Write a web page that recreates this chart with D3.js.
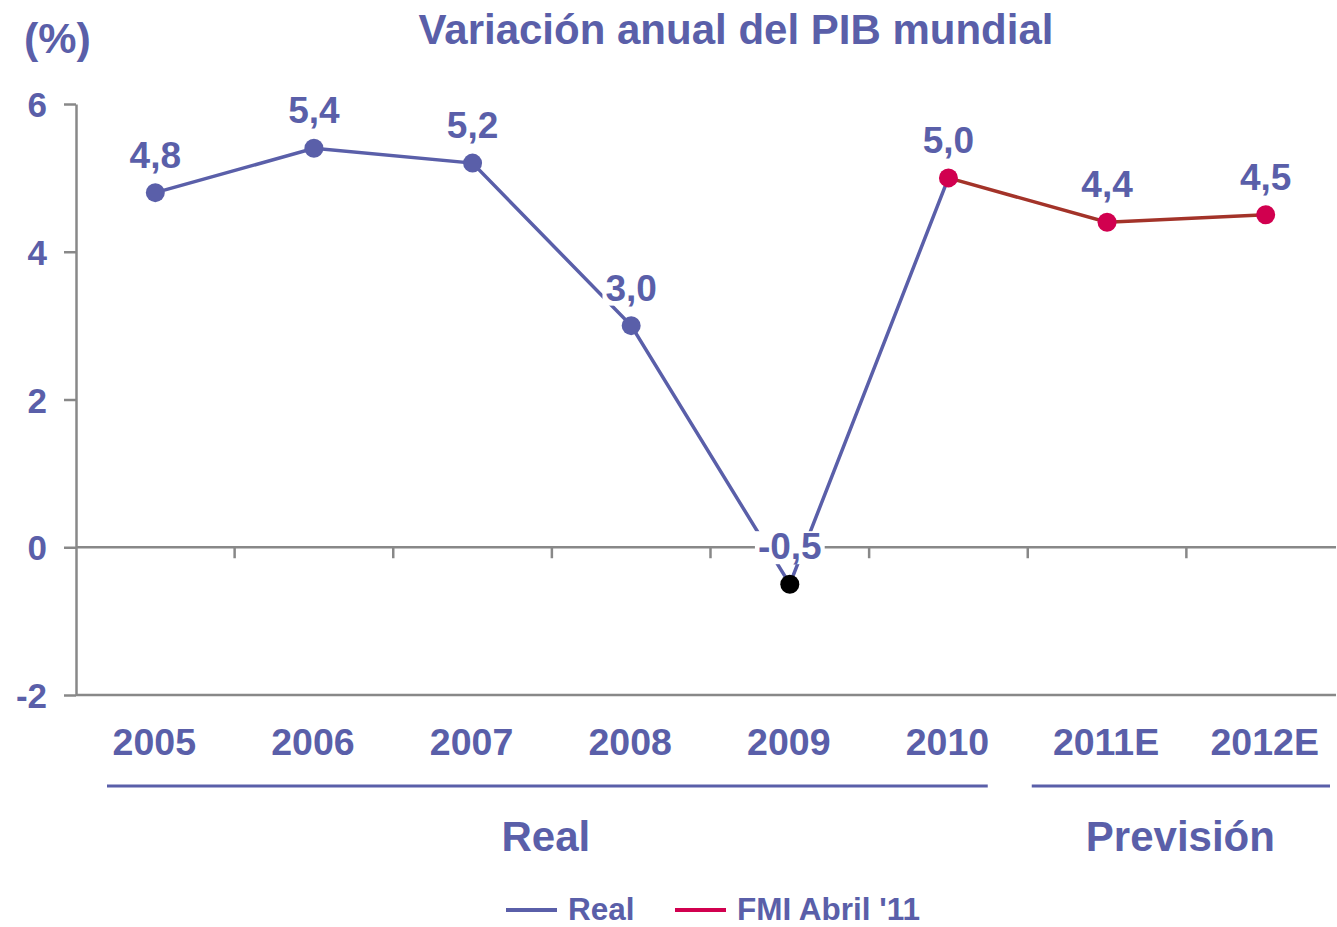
<!DOCTYPE html>
<html><head><meta charset="utf-8">
<script src="https://cdn.jsdelivr.net/npm/d3@7"></script>
<style>body{margin:0;background:#fff}svg{display:block}text{font-family:"Liberation Sans",Arial,sans-serif;font-weight:bold}</style>
</head><body><svg id="c" width="1337" height="927"></svg>
<script>
const categories = ["2005","2006","2007","2008","2009","2010","2011E","2012E"];
const realYears = ["2005","2006","2007","2008","2009","2010"];
const realValues = [4.8, 5.4, 5.2, 3.0, -0.5, 5.0];
const fmiYears = ["2010","2011E","2012E"];
const fmiValues = [5.0, 4.4, 4.5];
const yTicks = [-2, 0, 2, 4, 6];
const groups = [{name:"Real", from:"2005", to:"2010"}, {name:"Previsión", from:"2011E", to:"2012E"}];

const blue = "#5A5FA9", crimson = "#D1004F", brown = "#A33329", grey = "#888888";
const svg = d3.select("#c");
const L = 76, R = 1345, T = 104, B = 695, axisRight = 1336;
const x = d3.scaleBand().domain(categories).range([L, R]);
const y = d3.scaleLinear().domain([-2, 6]).range([B, T]);
const cx = d => x(d) + x.bandwidth()/2;

// title
svg.append("text").attr("x", 736).attr("y", 44).attr("text-anchor","middle")
  .attr("font-size", 42).attr("fill", blue).text("Variación anual del PIB mundial");
svg.append("text").attr("x", 24).attr("y", 53).attr("font-size", 43).attr("fill", blue).text("(%)");

// y axis
const ya = svg.append("g").attr("transform", `translate(${L},0)`)
  .call(d3.axisLeft(y).tickValues(yTicks).tickSize(12).tickSizeOuter(0).tickPadding(17).tickFormat(d => String(d)));
ya.select(".domain").attr("stroke", grey).attr("stroke-width", 2.5);
ya.selectAll(".tick line").attr("stroke", grey).attr("stroke-width", 2.5);
ya.selectAll(".tick text").attr("font-size", 35).attr("fill", blue).attr("font-family","Liberation Sans, Arial, sans-serif").attr("font-weight","bold").attr("dy","0.36em");

// bottom border & zero line
svg.append("line").attr("x1", L).attr("x2", axisRight).attr("y1", y(-2)).attr("y2", y(-2)).attr("stroke", grey).attr("stroke-width", 2.5);
svg.append("line").attr("x1", L).attr("x2", axisRight).attr("y1", y(0)).attr("y2", y(0)).attr("stroke", grey).attr("stroke-width", 2.5);
svg.selectAll(".bt").data(categories.slice(1)).join("line")
  .attr("x1", d => x(d)).attr("x2", d => x(d)).attr("y1", y(0)).attr("y2", y(0) + 11)
  .attr("stroke", grey).attr("stroke-width", 2.5);

// category labels
svg.selectAll(".cl").data(categories).join("text")
  .attr("x", d => cx(d) - 1).attr("y", 755).attr("text-anchor","middle")
  .attr("font-size", 37.5).attr("fill", blue).text(d => d);

// group brackets
groups.forEach((g, i) => {
  const x1 = x(g.from) + (i === 0 ? 31 : 4), x2 = x(g.to) + x.bandwidth() - (i === 0 ? 40 : 15);
  svg.append("line").attr("x1", x1).attr("x2", x2).attr("y1", 786).attr("y2", 786).attr("stroke", blue).attr("stroke-width", 3);
  svg.append("text").attr("x", (x(g.from) + x(g.to) + x.bandwidth())/2 - (i===0?6:6)).attr("y", 851).attr("text-anchor","middle")
    .attr("font-size", 42).attr("fill", blue).text(g.name);
});

// lines
const line = d3.line().x(d => cx(d[0])).y(d => y(d[1]));
svg.append("path").datum(d3.zip(realYears, realValues)).attr("d", line)
  .attr("fill","none").attr("stroke", blue).attr("stroke-width", 3.5);
svg.append("path").datum(d3.zip(fmiYears, fmiValues)).attr("d", line)
  .attr("fill","none").attr("stroke", brown).attr("stroke-width", 3.5);

// labels with white backgrounds
const allPts = categories.map(c => {
  const ri = realYears.indexOf(c), fi = fmiYears.indexOf(c);
  return {c, v: ri >= 0 ? realValues[ri] : fmiValues[fi], fmi: fi >= 0};
});
const fmt = v => d3.format(".1f")(v).replace(".", ",").replace("\u2212", "-");
const lg = svg.append("g");
allPts.forEach(p => {
  const t = lg.append("text").attr("x", cx(p.c)).attr("y", y(p.v) - 25).attr("text-anchor","middle")
    .attr("font-size", 37).attr("fill", blue).text(fmt(p.v));
  const bb = t.node().getBBox();
  lg.insert("rect", "text").attr("x", bb.x - 3).attr("y", bb.y + 5).attr("width", bb.width + 6).attr("height", bb.height - 8).attr("fill", "#fff");
});

// markers
svg.selectAll(".pt").data(allPts).join("circle")
  .attr("cx", d => cx(d.c)).attr("cy", d => y(d.v)).attr("r", 9.5)
  .attr("fill", d => d.fmi ? crimson : (d.v < 0 ? "#000" : blue));

// legend
const leg = [{name:"Real", color: blue, x: 506}, {name:"FMI Abril '11", color: crimson, x: 675}];
leg.forEach(l => {
  svg.append("line").attr("x1", l.x).attr("x2", l.x + 51).attr("y1", 910).attr("y2", 910).attr("stroke", l.color).attr("stroke-width", 4);
  svg.append("text").attr("x", l.x + 62).attr("y", 920).attr("font-size", 31.5).attr("fill", blue).text(l.name);
});
</script></body></html>
